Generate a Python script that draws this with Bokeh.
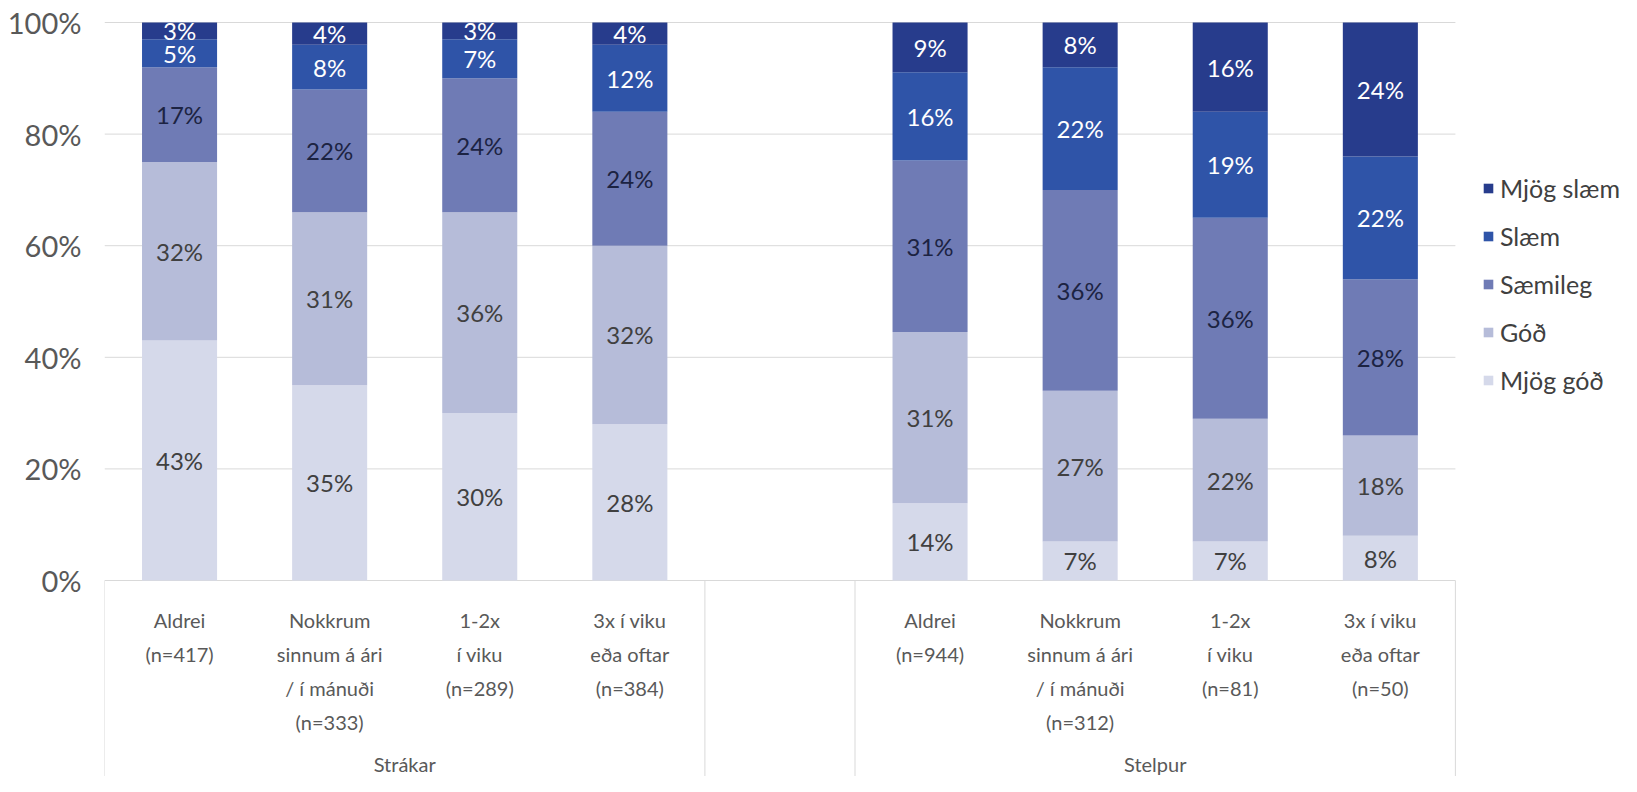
from bokeh.plotting import figure
from bokeh.models import (ColumnDataSource, Range1d, FixedTicker, PrintfTickFormatter,
                          Legend, LegendItem, Label)
from bokeh.core.properties import value
from bokeh.embed import file_html
from bokeh.resources import INLINE

# ---------------- data ----------------
groups = ["Strákar", "Stelpur"]
freq_labels = ["Aldrei", "Nokkrum\nsinnum á ári\n/ í mánuði", "1-2x\ní viku", "3x í viku\neða oftar"]
n_strakar = [417, 333, 289, 384]
n_stelpur = [944, 312, 81, 50]
responses = ["Mjög góð", "Góð", "Sæmileg", "Slæm", "Mjög slæm"]
# values per bar: Strákar (4 bars) then Stelpur (4 bars)
mjog_god = [43, 35, 30, 28, 14, 7, 7, 8]
god = [32, 31, 36, 32, 31, 27, 22, 18]
saemileg = [17, 22, 24, 24, 31, 36, 36, 28]
slaem = [5, 8, 7, 12, 16, 22, 19, 22]
mjog_slaem = [3, 4, 3, 4, 9, 8, 16, 24]
y_ticks = [0, 20, 40, 60, 80, 100]

colors = ["#d5d9ea", "#b6bcd9", "#6f7bb5", "#2f54a8", "#273c8c"]
label_colors = ["#404040", "#404040", "#1c2342", "#ffffff", "#ffffff"]
FONT = "Lato"
TXT = "#595959"

series = [mjog_god, god, saemileg, slaem, mjog_slaem]
n_all = n_strakar + n_stelpur
ncat = len(freq_labels)
slot = ncat + 1

# bar positions (slot indices), one empty slot between the groups
xs = [g * slot + c for g in range(len(groups)) for c in range(ncat)]
cat_text = [f"{freq_labels[c]}\n(n={n_all[g * ncat + c]})"
            for g in range(len(groups)) for c in range(ncat)]

# normalise each bar to 100 % (100 % stacked)
totals = [sum(s[i] for s in series) for i in range(len(xs))]
norm = {r: [s[i] * 100.0 / totals[i] for i in range(len(xs))] for r, s in zip(responses, series)}
src = ColumnDataSource(dict(x=xs, **norm))

# label positions
lx, ly, lt, lc = [], [], [], []
for i in range(len(xs)):
    bottom = 0.0
    for k, r in enumerate(responses):
        h = norm[r][i]
        lx.append(xs[i]); ly.append(bottom + h / 2)
        lt.append(f"{series[k][i]}%"); lc.append(label_colors[k])
        bottom += h
lab_src = ColumnDataSource(dict(x=lx, y=ly, t=lt, c=lc))

# ---------------- layout ----------------
W, H = 1621, 776
px_per_unit_y = 5.58
frame_top_pad = 22      # px above 100 %
y_end = 100 + frame_top_pad / px_per_unit_y
y_start = y_end - H / px_per_unit_y
left_border = 104
slot_px = 150.1
x_start = -0.5
x_end = x_start + (W - left_border) / slot_px

p = figure(width=W, height=H, output_backend="svg", toolbar_location=None,
           x_range=Range1d(x_start, x_end), y_range=Range1d(y_start, y_end),
           min_border_left=left_border, min_border_right=0, min_border_top=0,
           min_border_bottom=0)
p.outline_line_color = None
p.xgrid.visible = False
p.ygrid.visible = False
p.xaxis.visible = False

ax = p.yaxis[0]
ax.ticker = FixedTicker(ticks=y_ticks)
ax.formatter = PrintfTickFormatter(format="%d%%")
ax.axis_line_color = None
ax.major_tick_line_color = None
ax.minor_tick_line_color = None
ax.major_tick_out = 0
ax.major_label_standoff = 23
ax.major_label_text_font = FONT
ax.major_label_text_font_size = "29px"
ax.major_label_text_color = TXT

last = (len(groups) - 1) * slot + ncat - 1
# horizontal gridlines
p.segment(x0=x_start, x1=last + 0.5, y0=y_ticks, y1=y_ticks,
          line_color="#d9d9d9", line_width=1)
# separators below the axis
sep_x = [-0.5, ncat - 0.5, ncat + 0.5, last + 0.5]
p.segment(x0=sep_x, x1=sep_x, y0=0, y1=y_start, line_color="#d9d9d9", line_width=1)

rs = p.vbar_stack(responses, x="x", width=0.5, color=colors, line_color=None, source=src)

p.text(x="x", y="y", text="t", text_color="c", source=lab_src,
       text_align="center", text_baseline="middle",
       text_font=value(FONT), text_font_size="24px")

# category labels
cat_src = ColumnDataSource(dict(x=xs, t=cat_text))
p.text(x="x", y=-27 / px_per_unit_y, text="t", source=cat_src,
       text_align="center", text_baseline="top", text_line_height=1.42,
       text_font=value(FONT), text_font_size="20px", text_color=TXT)
# group labels
for g, name in enumerate(groups):
    p.add_layout(Label(x=g * slot + (ncat - 1) / 2, y=-183 / px_per_unit_y, text=name,
                       text_align="center", text_baseline="middle",
                       text_font=FONT, text_font_size="20px", text_color=TXT))

items = [LegendItem(label=responses[k], renderers=[rs[k]]) for k in range(len(responses) - 1, -1, -1)]
legend = Legend(items=items, location=(1378, 379), orientation="vertical",
                glyph_width=12, glyph_height=12, label_height=34, spacing=14,
                padding=0, margin=0, border_line_color=None, background_fill_alpha=0,
                label_text_font=FONT, label_text_font_size="25px",
                label_text_color="#404040", label_standoff=6)
p.add_layout(legend)

open("out.html", "w").write(file_html(p, INLINE))
